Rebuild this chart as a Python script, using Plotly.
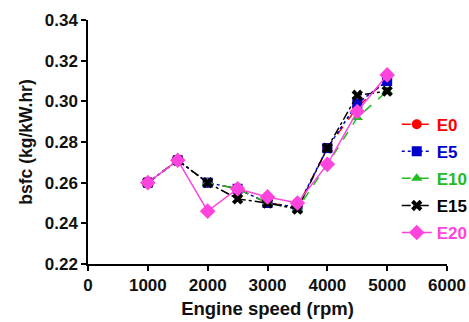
import plotly.graph_objects as go

speed = [1000, 1500, 2000, 2500, 3000, 3500, 4000, 4500, 5000]
E0 = [0.260, 0.271, 0.260, 0.257, 0.250, 0.248, 0.277, 0.297, 0.311]
E5 = [0.260, 0.271, 0.260, 0.257, 0.250, 0.248, 0.277, 0.299, 0.310]
E10 = [0.260, 0.271, 0.260, 0.257, 0.250, 0.247, 0.269, 0.292, 0.305]
E15 = [0.260, 0.271, 0.260, 0.252, 0.250, 0.247, 0.277, 0.303, 0.305]
E20 = [0.260, 0.271, 0.246, 0.257, 0.253, 0.250, 0.269, 0.295, 0.313]

names = ["E0", "E5", "E10", "E15", "E20"]
series = [E0, E5, E10, E15, E20]
colors = ["#FF0000", "#0000CC", "#22BB22", "#000000", "#FF44DD"]
dashes = ["dash", "dot", "dash", "dashdot", "solid"]
symbols = ["circle", "square", "triangle-up", "x", "diamond"]
sizes = [10, 10, 10, 10, 12]

FONT = "Liberation Sans, Arial, sans-serif"
fig = go.Figure()
for n, s, c, d, sym, sz in zip(names, series, colors, dashes, symbols, sizes):
    fig.add_trace(go.Scatter(
        x=speed, y=s, mode="lines+markers",
        name=f"<span style='color:{c}'><b>{n}</b></span>",
        legendgroup=n,
        line=dict(color=c, dash=d, width=1.5),
        marker=dict(symbol=sym, size=sz, color=c),
    ))

fig.update_layout(
    width=469, height=322,
    margin=dict(l=88, r=22, t=20, b=58, autoexpand=False),
    plot_bgcolor="white", paper_bgcolor="white",
    font=dict(family=FONT, size=17, color="#111111", weight="bold"),
    legend=dict(x=0.86, y=0.645, xanchor="left", yanchor="top",
                bgcolor="rgba(0,0,0,0)", font=dict(size=17, family=FONT),
                itemwidth=30, tracegroupgap=2),
    xaxis=dict(range=[0, 6000], tickvals=[0, 1000, 2000, 3000, 4000, 5000, 6000],
               showgrid=False, zeroline=False, showline=True, linecolor="black",
               linewidth=1.5, ticks="outside", ticklen=5, tickwidth=1.5,
               tickcolor="black",
               title=dict(text="Engine speed (rpm)", font=dict(size=18.5), standoff=8)),
    yaxis=dict(range=[0.22, 0.34], tickvals=[0.22, 0.24, 0.26, 0.28, 0.30, 0.32, 0.34],
               tickformat=".2f",
               showgrid=False, zeroline=False, showline=True, linecolor="black",
               linewidth=1.5, ticks="outside", ticklen=5, tickwidth=1.5,
               tickcolor="black",
               title=dict(text="bsfc (kg/kW.hr)", font=dict(size=17.5), standoff=8)),
)
fig.write_html("out.html")
